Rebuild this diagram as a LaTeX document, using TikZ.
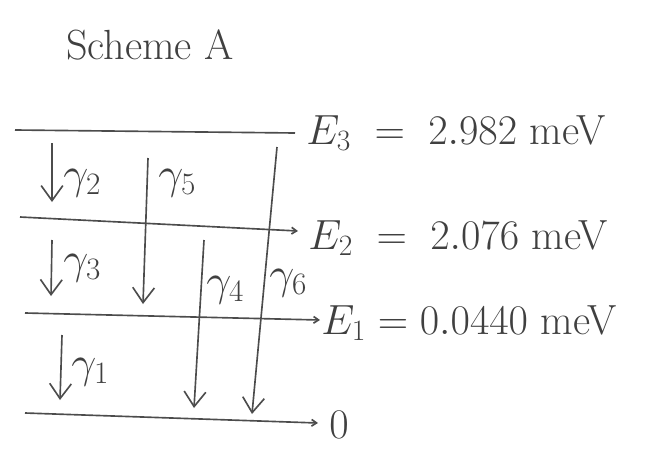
\RequirePackage{fix-cm}
\documentclass[tikz,border=0pt]{standalone}
\usepackage{amsmath}
\usepackage{tikz}
\usetikzlibrary{arrows.meta}

\tikzset{
  level/.style={line width=1.4pt, draw=black!70},
  decay/.style={line width=1.4pt, draw=black!70, -{Straight Barb[length=4.5mm, width=6.5mm, line width=1.4pt]}},
  lab/.style={text=black!75, font=\fontsize{36}{42}\selectfont, inner sep=1pt},
  gam/.style={text=black!75, font=\fontsize{38}{44}\selectfont, anchor=west, inner sep=1pt}
}

\begin{document}
\begin{tikzpicture}[x=0.03cm, y=-0.03cm]
\useasboundingbox (0,0) rectangle (648,475);

% Title
\node[lab] (title) at (150,45) {Scheme A};

% Level E3
\coordinate (e3a) at (15,130);
\coordinate (e3b) at (295,133);
\draw[level] (e3a) -- (e3b);
\node[lab, anchor=west] (e3) at (305,133) {$E_3 \;=\; 2.982$ meV};

% Level E2
\coordinate (e2a) at (20,217);
\coordinate (e2b) at (298,231);
\draw[level, -{Straight Barb[length=1.5mm, width=2mm]}] (e2a) -- (e2b);
\node[lab, anchor=west] (e2) at (307,238) {$E_2 \;=\; 2.076$ meV};

% Level E1
\coordinate (e1a) at (25,313);
\coordinate (e1b) at (320,320);
\draw[level, -{Straight Barb[length=1.5mm, width=2mm]}] (e1a) -- (e1b);
\node[lab, anchor=west] (e1) at (320,323) {$E_1 = 0.0440$ meV};

% Ground level
\coordinate (e0a) at (25,413);
\coordinate (e0b) at (318,423);
\draw[level, -{Straight Barb[length=1.5mm, width=2mm]}] (e0a) -- (e0b);
\node[lab, anchor=west] (e0) at (328,425) {$0$};

% Transitions
\coordinate (g2s) at (52,143);  \coordinate (g2e) at (52,202);
\coordinate (g5s) at (148,158); \coordinate (g5e) at (143,304);
\coordinate (g6s) at (277,147); \coordinate (g6e) at (252,414);
\coordinate (g3s) at (52,240);  \coordinate (g3e) at (51,296);
\coordinate (g4s) at (204,240); \coordinate (g4e) at (194,408);
\coordinate (g1s) at (62,335);  \coordinate (g1e) at (60,400);
\draw[decay] (g2s) -- (g2e);
\draw[decay] (g5s) -- (g5e);
\draw[decay] (g6s) -- (g6e);
\draw[decay] (g3s) -- (g3e);
\draw[decay] (g4s) -- (g4e);
\draw[decay] (g1s) -- (g1e);
\node[gam] (l2) at (62,183) {$\gamma_2$};
\node[gam] (l5) at (157,183) {$\gamma_5$};
\node[gam] (l6) at (268,283) {$\gamma_6$};
\node[gam] (l3) at (62,268) {$\gamma_3$};
\node[gam] (l4) at (205,290) {$\gamma_4$};
\node[gam] (l1) at (70,372) {$\gamma_1$};
\end{tikzpicture}
\end{document}
